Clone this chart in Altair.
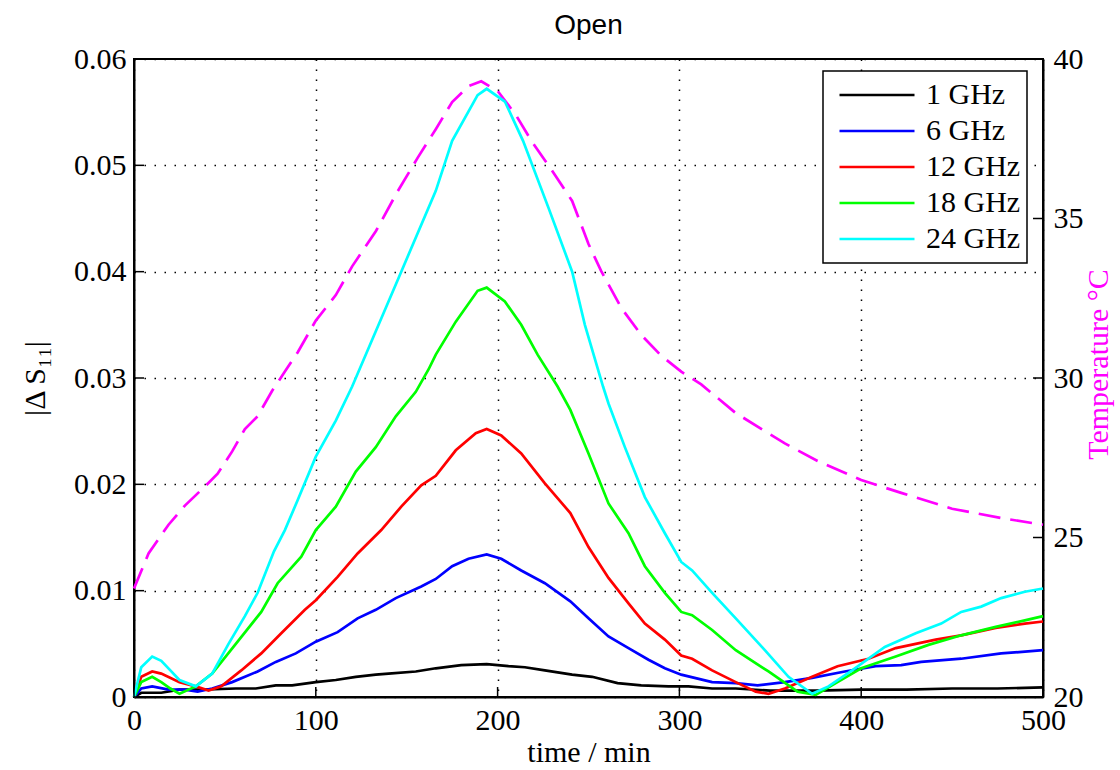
import altair as alt
import pandas as pd

# ---- data ----
freqs = ["1 GHz", "6 GHz", "12 GHz", "18 GHz", "24 GHz"]
colors = ["#000000", "#0000ff", "#ff0000", "#00ff00", "#00ffff"]

t_1 = [0, 4, 15, 25, 37, 56, 67, 78, 87, 100, 111, 122, 133, 140, 155, 166, 180, 194, 206, 215,
       226, 241, 252, 266, 279, 294, 305, 318, 331, 350, 375, 400, 425, 450, 475, 500]
s_1 = [0.0, 0.0004, 0.0004, 0.0007, 0.0007, 0.0008, 0.0008, 0.0011, 0.0011, 0.0014, 0.0016, 0.0019,
       0.0021, 0.0022, 0.0024, 0.0027, 0.0030, 0.0031, 0.0029, 0.0028, 0.0025, 0.0021, 0.0019, 0.0013,
       0.0011, 0.0010, 0.0010, 0.0008, 0.0008, 0.0006, 0.0006, 0.0007, 0.0007, 0.0008, 0.0008, 0.0009]

t_6 = [0, 4, 10, 19, 28, 35, 43, 54, 68, 78, 89, 100, 112, 123, 133, 144, 158, 166, 175, 184, 194,
       202, 213, 226, 240, 250, 261, 272, 283, 292, 301, 318, 331, 343, 358, 373, 391, 408, 422, 433,
       455, 477, 500]
s_6 = [0.0, 0.0008, 0.0010, 0.0007, 0.0007, 0.0005, 0.0008, 0.0014, 0.0024, 0.0033, 0.0041, 0.0052,
       0.0061, 0.0074, 0.0082, 0.0093, 0.0104, 0.0111, 0.0123, 0.0130, 0.0134, 0.0130, 0.0119, 0.0107,
       0.0090, 0.0074, 0.0057, 0.0046, 0.0035, 0.0027, 0.0021, 0.0014, 0.0013, 0.0011, 0.0014, 0.0018,
       0.0024, 0.0029, 0.0030, 0.0033, 0.0036, 0.0041, 0.0044]

t_12 = [0, 4, 10, 15, 25, 34, 41, 48, 59, 70, 81, 94, 100, 112, 123, 136, 147, 158, 166, 177, 188,
        194, 202, 213, 226, 240, 250, 261, 272, 281, 292, 301, 307, 318, 331, 342, 349, 358, 373, 387,
        404, 419, 441, 455, 474, 490, 500]
s_12 = [0.0, 0.0019, 0.0024, 0.0022, 0.0014, 0.0010, 0.0006, 0.0010, 0.0025, 0.0041, 0.0060, 0.0082,
        0.0091, 0.0113, 0.0135, 0.0157, 0.0179, 0.0199, 0.0208, 0.0232, 0.0248, 0.0252, 0.0246, 0.0229,
        0.0201, 0.0173, 0.0141, 0.0112, 0.0088, 0.0069, 0.0054, 0.0039, 0.0036, 0.0025, 0.0014, 0.0005,
        0.0003, 0.0008, 0.0019, 0.0029, 0.0036, 0.0046, 0.0054, 0.0058, 0.0065, 0.0069, 0.0071]

t_18 = [0, 4, 10, 15, 20, 25, 34, 43, 56, 70, 79, 92, 100, 111, 122, 133, 144, 155, 162, 166, 177,
        189, 194, 204, 213, 222, 233, 240, 250, 261, 272, 281, 292, 301, 307, 318, 331, 349, 365, 375,
        386, 400, 419, 437, 455, 474, 490, 500]
s_18 = [0.0, 0.0014, 0.0019, 0.0014, 0.0008, 0.0003, 0.0010, 0.0022, 0.0050, 0.0080, 0.0107, 0.0132,
        0.0157, 0.0179, 0.0212, 0.0235, 0.0264, 0.0287, 0.0308, 0.0322, 0.0353, 0.0382, 0.0385, 0.0372,
        0.0350, 0.0322, 0.0292, 0.0270, 0.0229, 0.0182, 0.0154, 0.0123, 0.0098, 0.0080, 0.0077, 0.0063,
        0.0044, 0.0024, 0.0005, 0.0002, 0.0013, 0.0027, 0.0038, 0.0049, 0.0058, 0.0066, 0.0072, 0.0076]

t_24 = [0, 4, 10, 15, 20, 25, 34, 43, 52, 61, 68, 77, 83, 90, 100, 111, 120, 133, 147, 166, 175,
        189, 194, 204, 214, 228, 241, 248, 258, 261, 270, 281, 292, 301, 307, 318, 331, 347, 360, 373,
        382, 395, 413, 430, 444, 455, 466, 477, 490, 500]
s_24 = [0.0, 0.0028, 0.0038, 0.0034, 0.0025, 0.0016, 0.0010, 0.0022, 0.0050, 0.0076, 0.0098, 0.0137,
        0.0157, 0.0185, 0.0226, 0.0260, 0.0292, 0.0344, 0.0400, 0.0476, 0.0523, 0.0566, 0.0572, 0.0560,
        0.0523, 0.0460, 0.0400, 0.0350, 0.0292, 0.0276, 0.0235, 0.0188, 0.0154, 0.0127, 0.0119, 0.0098,
        0.0074, 0.0044, 0.0019, 0.0003, 0.0010, 0.0025, 0.0047, 0.0060, 0.0069, 0.0080, 0.0085, 0.0093,
        0.0099, 0.0102]

t_temp = [0, 8, 19, 28, 39, 46, 54, 61, 68, 76, 83, 90, 100, 111, 120, 133, 145, 156, 166, 175, 184,
          191, 200, 210, 219, 230, 241, 250, 257, 268, 279, 290, 301, 312, 331, 358, 376, 400, 422, 450,
          478, 500]
temp = [23.4, 24.5, 25.4, 26.0, 26.6, 27.0, 27.7, 28.4, 28.8, 29.6, 30.2, 30.8, 31.8, 32.6, 33.5, 34.6,
        35.85, 36.9, 37.8, 38.65, 39.15, 39.3, 39.0, 38.25, 37.4, 36.5, 35.55, 34.2, 33.35, 32.2, 31.35,
        30.7, 30.2, 29.8, 28.9, 27.95, 27.4, 26.8, 26.4, 25.9, 25.6, 25.4]

x_ticks = [0, 100, 200, 300, 400, 500]
y_ticks = [0, 0.01, 0.02, 0.03, 0.04, 0.05, 0.06]
temp_ticks = [20, 25, 30, 35, 40]

# ---- tables ----
series = [(t_1, s_1), (t_6, s_6), (t_12, s_12), (t_18, s_18), (t_24, s_24)]
rows = []
for name, (ts, ss) in zip(freqs, series):
    for tt, vv in zip(ts, ss):
        rows.append({"t": tt, "v": vv, "freq": name})
df = pd.DataFrame(rows)
tdf = pd.DataFrame({"t": t_temp, "T": temp})

W, H = 909, 638
SERIF = "Liberation Serif"
TICK = 10

xscale = alt.Scale(domain=[0, 500], nice=False)
yscale = alt.Scale(domain=[0, 0.06], nice=False)
tscale = alt.Scale(domain=[20, 40], nice=False)

x_axis = alt.Axis(values=x_ticks, title="time / min", grid=True, gridDash=[1.5, 8.5],
                  gridColor="black", gridWidth=1.5, gridOpacity=1, ticks=False,
                  labelPadding=8, titlePadding=2, format="d", labelFlush=False)
y_axis = alt.Axis(values=y_ticks, title="|Δ S₁₁|", grid=True, gridDash=[1.5, 8.5],
                  gridColor="black", gridWidth=1.5, gridOpacity=1, ticks=False,
                  labelPadding=8, titlePadding=23, labelFlush=False,
                  labelExpr="datum.value == 0 ? '0' : format(datum.value, '.2f')")
t_axis = alt.Axis(values=temp_ticks, title="Temperature °C", orient="right", grid=False,
                  ticks=False, labelPadding=10, titlePadding=30, titleColor="#ff00ff",
                  titleAngle=270, titleAlign="center", titleY=H / 2 - 14, labelFlush=False)

lines = alt.Chart(df).mark_line(strokeWidth=2.7).encode(
    x=alt.X("t:Q", scale=xscale, axis=x_axis),
    y=alt.Y("v:Q", scale=yscale, axis=y_axis),
    color=alt.Color("freq:N", scale=alt.Scale(domain=freqs, range=colors),
                    sort=freqs, legend=alt.Legend(title=None, orient="none",
                                                  legendX=689, legendY=12)),
)

left_ticks = alt.Chart(pd.DataFrame({"v": y_ticks})).mark_rule(color="black", strokeWidth=1.5).encode(
    y=alt.Y("v:Q", scale=yscale, axis=y_axis), x=alt.value(0), x2=alt.value(TICK))
bottom_ticks = alt.Chart(pd.DataFrame({"t": x_ticks})).mark_rule(color="black", strokeWidth=1.5).encode(
    x=alt.X("t:Q", scale=xscale, axis=x_axis), y=alt.value(H), y2=alt.value(H - TICK))

temp_line = alt.Chart(tdf).mark_line(color="#ff00ff", strokeWidth=2.7, strokeDash=[22, 10]).encode(
    x=alt.X("t:Q", scale=xscale, axis=x_axis),
    y=alt.Y("T:Q", scale=tscale, axis=t_axis),
)
right_ticks = alt.Chart(pd.DataFrame({"T": temp_ticks})).mark_rule(color="black", strokeWidth=1.5).encode(
    y=alt.Y("T:Q", scale=tscale, axis=t_axis), x=alt.value(W), x2=alt.value(W - TICK))

left = alt.layer(lines, left_ticks, bottom_ticks)
right = alt.layer(temp_line, right_ticks)

chart = alt.layer(right, left).resolve_scale(y="independent").properties(
    width=W, height=H,
    title=alt.TitleParams("Open", font="Liberation Sans", fontSize=28, fontWeight="normal",
                          color="black", offset=4, anchor="middle"),
    autosize=alt.AutoSizeParams(type="none"),
    padding={"left": 134, "top": 59, "right": 77, "bottom": 73},
).configure_view(stroke="black", strokeWidth=2).configure_axis(
    domainColor="black", domainWidth=2, labelFont=SERIF, labelFontSize=30, labelColor="black",
    titleFont=SERIF, titleFontSize=30, titleFontWeight="normal", titleColor="black",
).configure_legend(
    padding=6, strokeColor="black", strokeWidth=1.5,
    fillColor="white", symbolType="stroke", symbolSize=5625, symbolStrokeWidth=2.5,
    symbolOffset=9,
    labelFont=SERIF, labelFontSize=30, labelColor="black", labelOffset=10, clipHeight=36,
    rowPadding=0, labelLimit=300,
)

chart.save("out.html", embed_options={"renderer": "svg", "actions": False})
